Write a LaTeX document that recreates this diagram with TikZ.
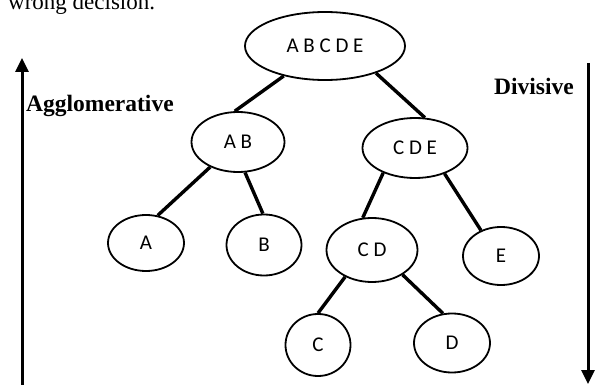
\documentclass[tikz,border=0pt]{standalone}
\usepackage{fontspec}
\setmainfont{Liberation Serif}
\newfontfamily\clusfont{Carlito}
\usetikzlibrary{shapes.geometric,arrows.meta}
\tikzset{
  clus/.style={ellipse, draw, line width=1.8pt, inner sep=0pt,
    font=\clusfont\fontsize{21}{25}\selectfont},
  link/.style={line width=3.4pt},
  dirarrow/.style={line width=3pt, -{Triangle[length=14pt,width=13pt]}},
  dirlabel/.style={inner sep=0pt, anchor=base west,
    font=\bfseries\fontsize{23.5}{28}\selectfont}
}
\begin{document}
\begin{tikzpicture}[x=1pt,y=-1pt]
  \useasboundingbox (0,0) rectangle (595,385);
  \clip (0,0) rectangle (595,385);
  \node[inner sep=0pt, anchor=base west, font=\fontsize{23}{28}\selectfont]
    (prev) at (8,10) {wrong decision.};
  \draw
    (325,46) node[clus, minimum width=160pt, minimum height=68pt] (abcde) {A B C D E}
    (238,142) node[clus, minimum width=93pt, minimum height=60pt] (ab) {A B}
    (415,148) node[clus, minimum width=105pt, minimum height=60pt] (cde) {C D E}
    (146,243) node[clus, minimum width=76pt, minimum height=56pt] (a) {A}
    (264,245) node[clus, minimum width=75pt, minimum height=61pt] (b) {B}
    (372,250) node[clus, minimum width=91pt, minimum height=64pt] (cd) {C D}
    (501,256) node[clus, minimum width=76pt, minimum height=58pt] (e) {E}
    (318,345) node[clus, minimum width=65pt, minimum height=62pt] (c) {C}
    (452,343) node[clus, minimum width=76pt, minimum height=59pt] (d) {D};
  \begin{scope}[link]
    \draw (abcde.216) to (ab.96);
    \draw (abcde.-28) to (cde.72);
    \draw (ab.222) to (a.67);
    \draw (ab.-77) to (b.92);
    \draw (cde.218) to (cd.106);
    \draw (cde.-41) to (e.128);
    \draw (cd.225) to (c.90);
    \draw (cd.-39) to (d.107);
  \end{scope}
  \coordinate (aggbot) at (22,386);
  \coordinate (aggtop) at (22,58);
  \coordinate (divtop) at (588,63);
  \coordinate (divbot) at (588,384);
  \draw[dirarrow] (aggbot) -- (aggtop);
  \draw[dirarrow] (divtop) -- (divbot);
  \node[dirlabel] (agg) at (26,112) {Agglomerative};
  \node[dirlabel] (div) at (494,95) {Divisive};
\end{tikzpicture}
\end{document}
